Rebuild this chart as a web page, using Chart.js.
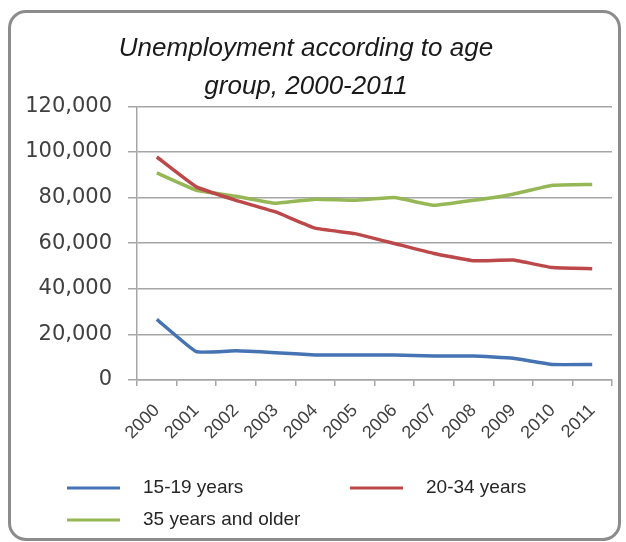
<!DOCTYPE html>
<html>
<head>
<meta charset="utf-8">
<script src="https://cdn.jsdelivr.net/npm/chart.js@4.4.1/dist/chart.umd.min.js"></script>
<style>
  html, body { margin: 0; padding: 0; background: #fff; }
  #wrap { position: relative; width: 626px; height: 542px; }
  #frame {
    position: absolute; left: 8px; top: 10px; width: 607px; height: 525px;
    border: 3px solid #8c8c8c; border-radius: 18px; background: #fff;
  }
  #chart { position: absolute; left: 0; top: 0; }
</style>
</head>
<body>
<div id="wrap">
  <div id="frame"></div>
  <canvas id="chart" width="626" height="542"></canvas>
</div>
<script>
// 年（横軸）
const years = ['2000', '2001', '2002', '2003', '2004', '2005', '2006', '2007', '2008', '2009', '2010', '2011'];

// 年齢層別の失業者数
const teens   = [26600, 12400, 12800, 12000, 11000, 11000, 11000, 10500, 10500, 9500, 6800, 6800];       // 15-19歳
const young   = [97800, 84700, 78800, 73700, 66600, 64200, 59900, 55500, 52300, 52600, 49300, 48800];   // 20-34歳
const older   = [90800, 83200, 80600, 77500, 79300, 78800, 80000, 76600, 78800, 81500, 85400, 85800];   // 35歳以上

const seriesLabels = ['15-19 years', '20-34 years', '35 years and older'];
const titleLines = ['Unemployment according to age', 'group, 2000-2011'];

// Y軸の目盛り
const yTicks = [0, 20000, 40000, 60000, 80000, 100000, 120000];

const gridColor = '#a6a6a6';

// 凡例を2列で描く（1行目に2項目、2行目に1項目）
const gridLegend = {
    id: 'gridLegend',
    afterDraw(chart, args, opts) {
        const ctx = chart.ctx;
        ctx.save();
        chart.data.datasets.forEach((ds, i) => {
            const pos = opts.slots[i];
            ctx.strokeStyle = ds.borderColor;
            ctx.lineWidth = 3;
            ctx.beginPath();
            ctx.moveTo(pos.x, pos.y);
            ctx.lineTo(pos.x + 53, pos.y);
            ctx.stroke();
            ctx.fillStyle = '#262626';
            ctx.font = '19px "Liberation Sans", Arial, sans-serif';
            ctx.textBaseline = 'middle';
            ctx.textAlign = 'left';
            ctx.fillText(ds.label, pos.x + 76, pos.y);
        });
        ctx.restore();
    }
};

const ctx = document.getElementById('chart').getContext('2d');
new Chart(ctx, {
    type: 'line',
    data: {
        labels: years,
        datasets: [
            { label: seriesLabels[0], data: teens, borderColor: '#4673b4' },
            { label: seriesLabels[1], data: young, borderColor: '#bc4849' },
            { label: seriesLabels[2], data: older, borderColor: '#96b755' },
        ].map(d => Object.assign(d, {
            borderWidth: 3.5,
            pointRadius: 0,
            tension: 0.1,
            fill: false,
        })),
    },
    options: {
        responsive: false,
        devicePixelRatio: 1,
        animation: false,
        layout: {
            padding: { left: 0, right: 14, top: 30, bottom: 82 },
        },
        scales: {
            x: {
                offset: true,
                afterFit: (scale) => { scale.height = 80; },
                grid: {
                    display: true,
                    offset: true,
                    drawOnChartArea: false,
                    color: gridColor,
                    lineWidth: 1.5,
                    tickLength: 6,
                },
                border: { display: true, color: gridColor, width: 1.5 },
                ticks: {
                    minRotation: 45,
                    maxRotation: 45,
                    padding: 14,
                    color: '#404040',
                    font: { family: '"Liberation Sans", Arial, sans-serif', size: 18 },
                },
            },
            y: {
                min: 0,
                max: 120000,
                afterFit: (scale) => { scale.width = 137; },
                afterBuildTicks: (scale) => { scale.ticks = yTicks.map(v => ({ value: v })); },
                grid: {
                    color: gridColor,
                    lineWidth: 1.5,
                    tickLength: 9,
                },
                border: { display: true, color: gridColor, width: 1.5 },
                ticks: {
                    padding: 16,
                    color: '#404040',
                    font: { family: '"DejaVu Sans", sans-serif', size: 21 },
                    callback: (value) => value.toLocaleString('en-US'),
                },
            },
        },
        plugins: {
            legend: { display: false },
            tooltip: { enabled: false },
            title: {
                display: true,
                text: titleLines,
                color: '#1a1a1a',
                font: { family: '"Liberation Sans", Arial, sans-serif', size: 26, style: 'italic', weight: 'normal', lineHeight: 1.45 },
                padding: { top: 0, bottom: 1 },
            },
            gridLegend: {
                slots: [{ x: 67, y: 488 }, { x: 350, y: 488 }, { x: 67, y: 520 }],
            },
        },
    },
    plugins: [gridLegend],
});
</script>
</body>
</html>
